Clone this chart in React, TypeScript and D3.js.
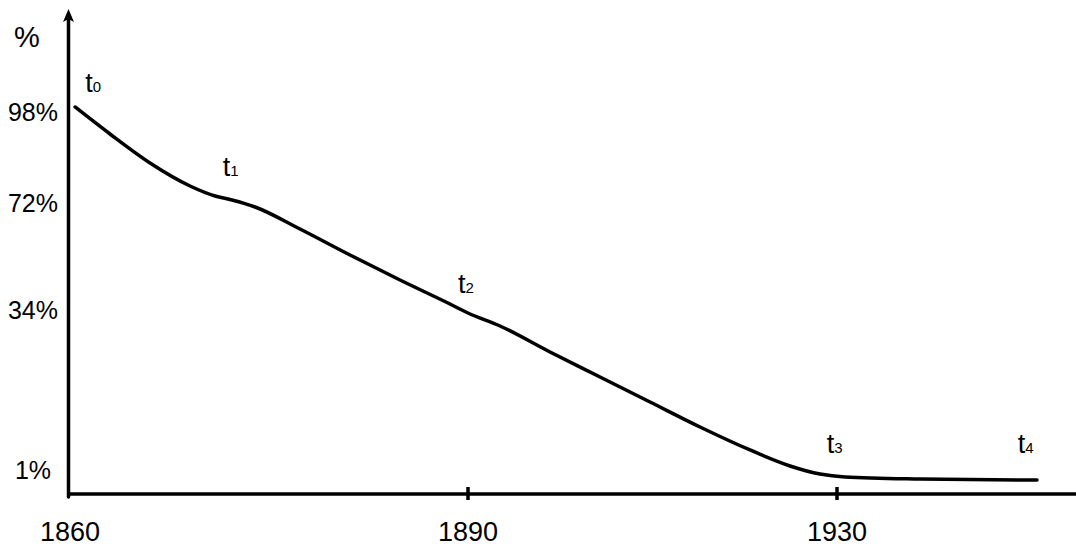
import React from "react";
import * as d3 from "d3";

// Axis anchors (the chart is schematic: spacing is not uniform)
const xTickYears = [1860, 1890, 1930];
const yTickValues = [1, 34, 72, 98];
const yTickLabels = ["1%", "34%", "72%", "98%"];

// Curve: year, percent
const curveYears = [1860.53, 1863.15, 1866.15, 1869.15, 1871.03, 1872.3, 1874.03, 1877.4, 1881.15, 1884.9, 1888.65, 1890, 1893.47, 1898.89, 1904.31, 1909.73, 1915.15, 1920.57, 1924.91, 1928.16, 1930.87, 1939.0, 1951.68];
const curvePct = [99.43, 91.71, 83.43, 76.86, 74.0, 72.86, 70.58, 62.77, 53.53, 44.65, 36.13, 33.38, 30.7, 25.34, 20.18, 15.03, 9.87, 5.13, 1.83, 0.83, 0.71, 0.625, 0.58];

// Point labels t0..t4
const labelSubs = ["0", "1", "2", "3", "4"];
const labelYears = [1861.3, 1871.6, 1889.25, 1928.9, 1949.6];
const labelPct = [103.7, 79.7, 40.0, 4.5, 4.5];

const W = 1076;
const H = 547;
const FONT = "'Liberation Sans', Arial, sans-serif";

export default function App() {
  const x = d3.scaleLinear().domain(xTickYears).range([68, 468, 837]);
  const y = d3.scaleLinear().domain([0, ...yTickValues]).range([494, 470, 310, 203, 112]);

  const pts: [number, number][] = curveYears.map((yr, i) => [x(yr), y(curvePct[i])]);
  const line = d3.line<[number, number]>().x(d => d[0]).y(d => d[1]).curve(d3.curveMonotoneX);

  const axisY = y(0);
  const axisX = x(1860) + 0.5;

  return (
    <svg width={W} height={H} style={{ position: "absolute", left: 0, top: 0, background: "#fff" }} fontFamily={FONT}>
      <rect width={W} height={H} fill="#fff" />
      {/* y axis */}
      <line x1={axisX} y1={axisY + 3} x2={axisX} y2={18} stroke="#000" strokeWidth={3.5} strokeLinecap="round" />
      <path d={`M${axisX},9 L${axisX - 5.5},22 L${axisX},19 L${axisX + 5.5},22 Z`} fill="#000" />
      {/* x axis */}
      <line x1={axisX} y1={axisY} x2={W + 2} y2={axisY} stroke="#000" strokeWidth={3.5} />
      {/* x ticks */}
      {xTickYears.slice(1).map(yr => (
        <line key={yr} x1={x(yr)} x2={x(yr)} y1={axisY - 7} y2={axisY + 6} stroke="#000" strokeWidth={3.5} />
      ))}
      {xTickYears.map(yr => (
        <text key={"l" + yr} x={x(yr) + (yr === 1860 ? 2 : 0)} y={541} fontSize={27} textAnchor="middle" fill="#000">{yr}</text>
      ))}
      {/* y tick labels */}
      {yTickValues.map((v, i) => (
        <text key={v} x={33} y={y(v) + 8.5} fontSize={25} textAnchor="middle" fill="#000">{yTickLabels[i]}</text>
      ))}
      <text x={27} y={47} fontSize={29} textAnchor="middle" fill="#000">%</text>
      {/* curve */}
      <path d={line(pts) || ""} fill="none" stroke="#000" strokeWidth={3.5} strokeLinecap="round" />
      {/* labels */}
      {labelSubs.map((s, i) => (
        <text key={s} x={x(labelYears[i])} y={y(labelPct[i])} fill="#000">
          <tspan fontSize={27}>t</tspan>
          <tspan fontSize={15}>{s}</tspan>
        </text>
      ))}
    </svg>
  );
}
